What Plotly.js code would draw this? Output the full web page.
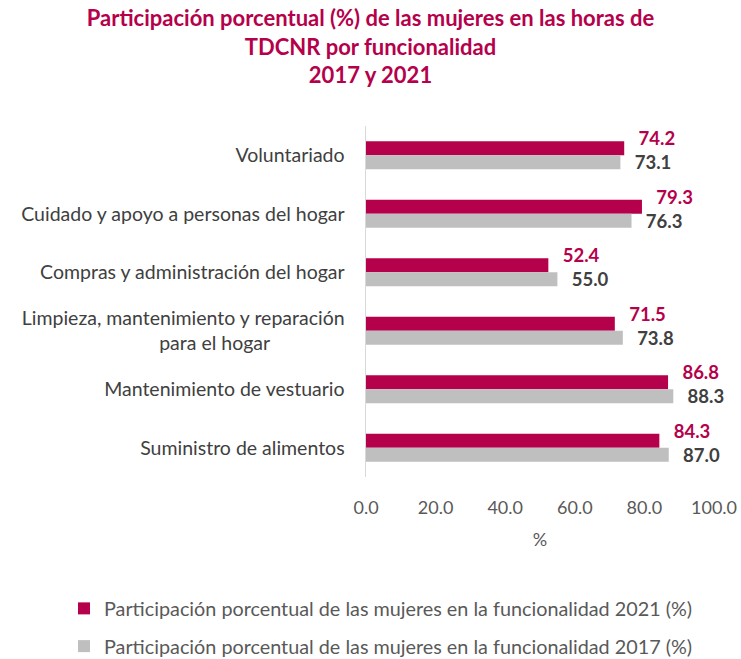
<!DOCTYPE html>
<html>
<head>
<meta charset="utf-8">
<script src="https://cdn.plot.ly/plotly-3.0.1.min.js"></script>
<style>html,body{margin:0;padding:0;background:#fff;}#chart{width:741px;height:659px;}</style>
</head>
<body>
<div id="chart"></div>
<script>
const categories = [
  "Voluntariado",
  "Cuidado y apoyo a personas del hogar",
  "Compras y administración del hogar",
  "Limpieza, mantenimiento y reparación para el hogar",
  "Mantenimiento de vestuario",
  "Suministro de alimentos"
];
const tickLabels = [
  "Voluntariado",
  "Cuidado y apoyo a personas del hogar",
  "Compras y administración del hogar",
  "Limpieza, mantenimiento y reparación<br>para el hogar" + "\u00a0".repeat(15),
  "Mantenimiento de vestuario",
  "Suministro de alimentos"
];
const values2021 = [74.2, 79.3, 52.4, 71.5, 86.8, 84.3];
const values2017 = [73.1, 76.3, 55.0, 73.8, 88.3, 87.0];
const xTicks = [0, 20, 40, 60, 80, 100];

const FONT = "Lato, 'Open Sans', sans-serif";
const RED = "#B5004B";
const GRAY = "#BFBFBF";
const NB = "\u00a0\u00a0";

const traces = [
  {
    type: "bar", orientation: "h",
    name: "Participación porcentual de las mujeres en la funcionalidad 2021 (%)",
    y: categories, x: values2021,
    marker: {color: RED},
    legendgroup: "a", hoverinfo: "x"
  },
  {
    type: "bar", orientation: "h",
    name: "Participación porcentual de las mujeres en la funcionalidad 2017 (%)",
    y: categories, x: values2017,
    marker: {color: GRAY},
    text: values2017.map(v => NB + "\u2009" + v.toFixed(1)),
    textposition: "outside",
    textfont: {color: "#404040", size: 18.5, family: FONT, weight: "bold"},
    constraintext: "none", cliponaxis: false,
    legendgroup: "b", hoverinfo: "x"
  },
  {
    type: "scatter", mode: "markers+text",
    y: categories, x: values2021,
    marker: {size: 7, opacity: 0, color: RED},
    text: values2021.map(v => NB + v.toFixed(1)),
    textposition: "top right",
    textfont: {color: RED, size: 18.5, family: FONT, weight: "bold"},
    cliponaxis: false, showlegend: false, hoverinfo: "skip"
  }
];

const layout = {
  width: 741, height: 659,
  paper_bgcolor: "#fff", plot_bgcolor: "#fff",
  font: {family: FONT, color: "#595959", size: 16},
  margin: {l: 366, r: 27, t: 126, b: 182, autoexpand: false},
  title: {
    text: "<b>Participación porcentual (%) de las mujeres en las horas de<br>TDCNR por funcionalidad<br>2017 y 2021</b>",
    font: {family: FONT, size: 22, color: RED},
    x: 0.5, xanchor: "center", xref: "container",
    y: 1 - 26 / 659, yanchor: "middle", yref: "container"
  },
  barmode: "group",
  bargap: 0.52,
  bargroupgap: 0,
  xaxis: {
    range: [0, 100], tickvals: xTicks, ticktext: xTicks.map(v => v.toFixed(1)),
    showgrid: false, zeroline: false, showline: false, ticks: "",
    tickfont: {size: 18, color: "#595959", family: FONT},
    ticklabelstandoff: 18, tickangle: 0, automargin: false,
    title: {text: "%", font: {size: 18, color: "#595959", family: FONT}, standoff: 16},
    fixedrange: true
  },
  yaxis: {
    type: "category", autorange: "reversed",
    tickvals: categories, ticktext: tickLabels,
    showgrid: false, zeroline: false, showline: true, linecolor: "#D9D9D9", linewidth: 1.5,
    ticks: "", ticklabelstandoff: 16, automargin: false,
    tickfont: {size: 19.5, color: "#404040", family: FONT},
    fixedrange: true
  },
  showlegend: true,
  legend: {
    orientation: "v", xref: "container", yref: "container",
    x: 64 / 741, xanchor: "left", y: 1 - 589 / 659, yanchor: "top",
    traceorder: "grouped", tracegroupgap: 9,
    font: {size: 19.8, color: "#595959", family: FONT},
    itemwidth: 30
  }
};

Plotly.newPlot("chart", traces, layout, {displayModeBar: false, staticPlot: true});
</script>
</body>
</html>
